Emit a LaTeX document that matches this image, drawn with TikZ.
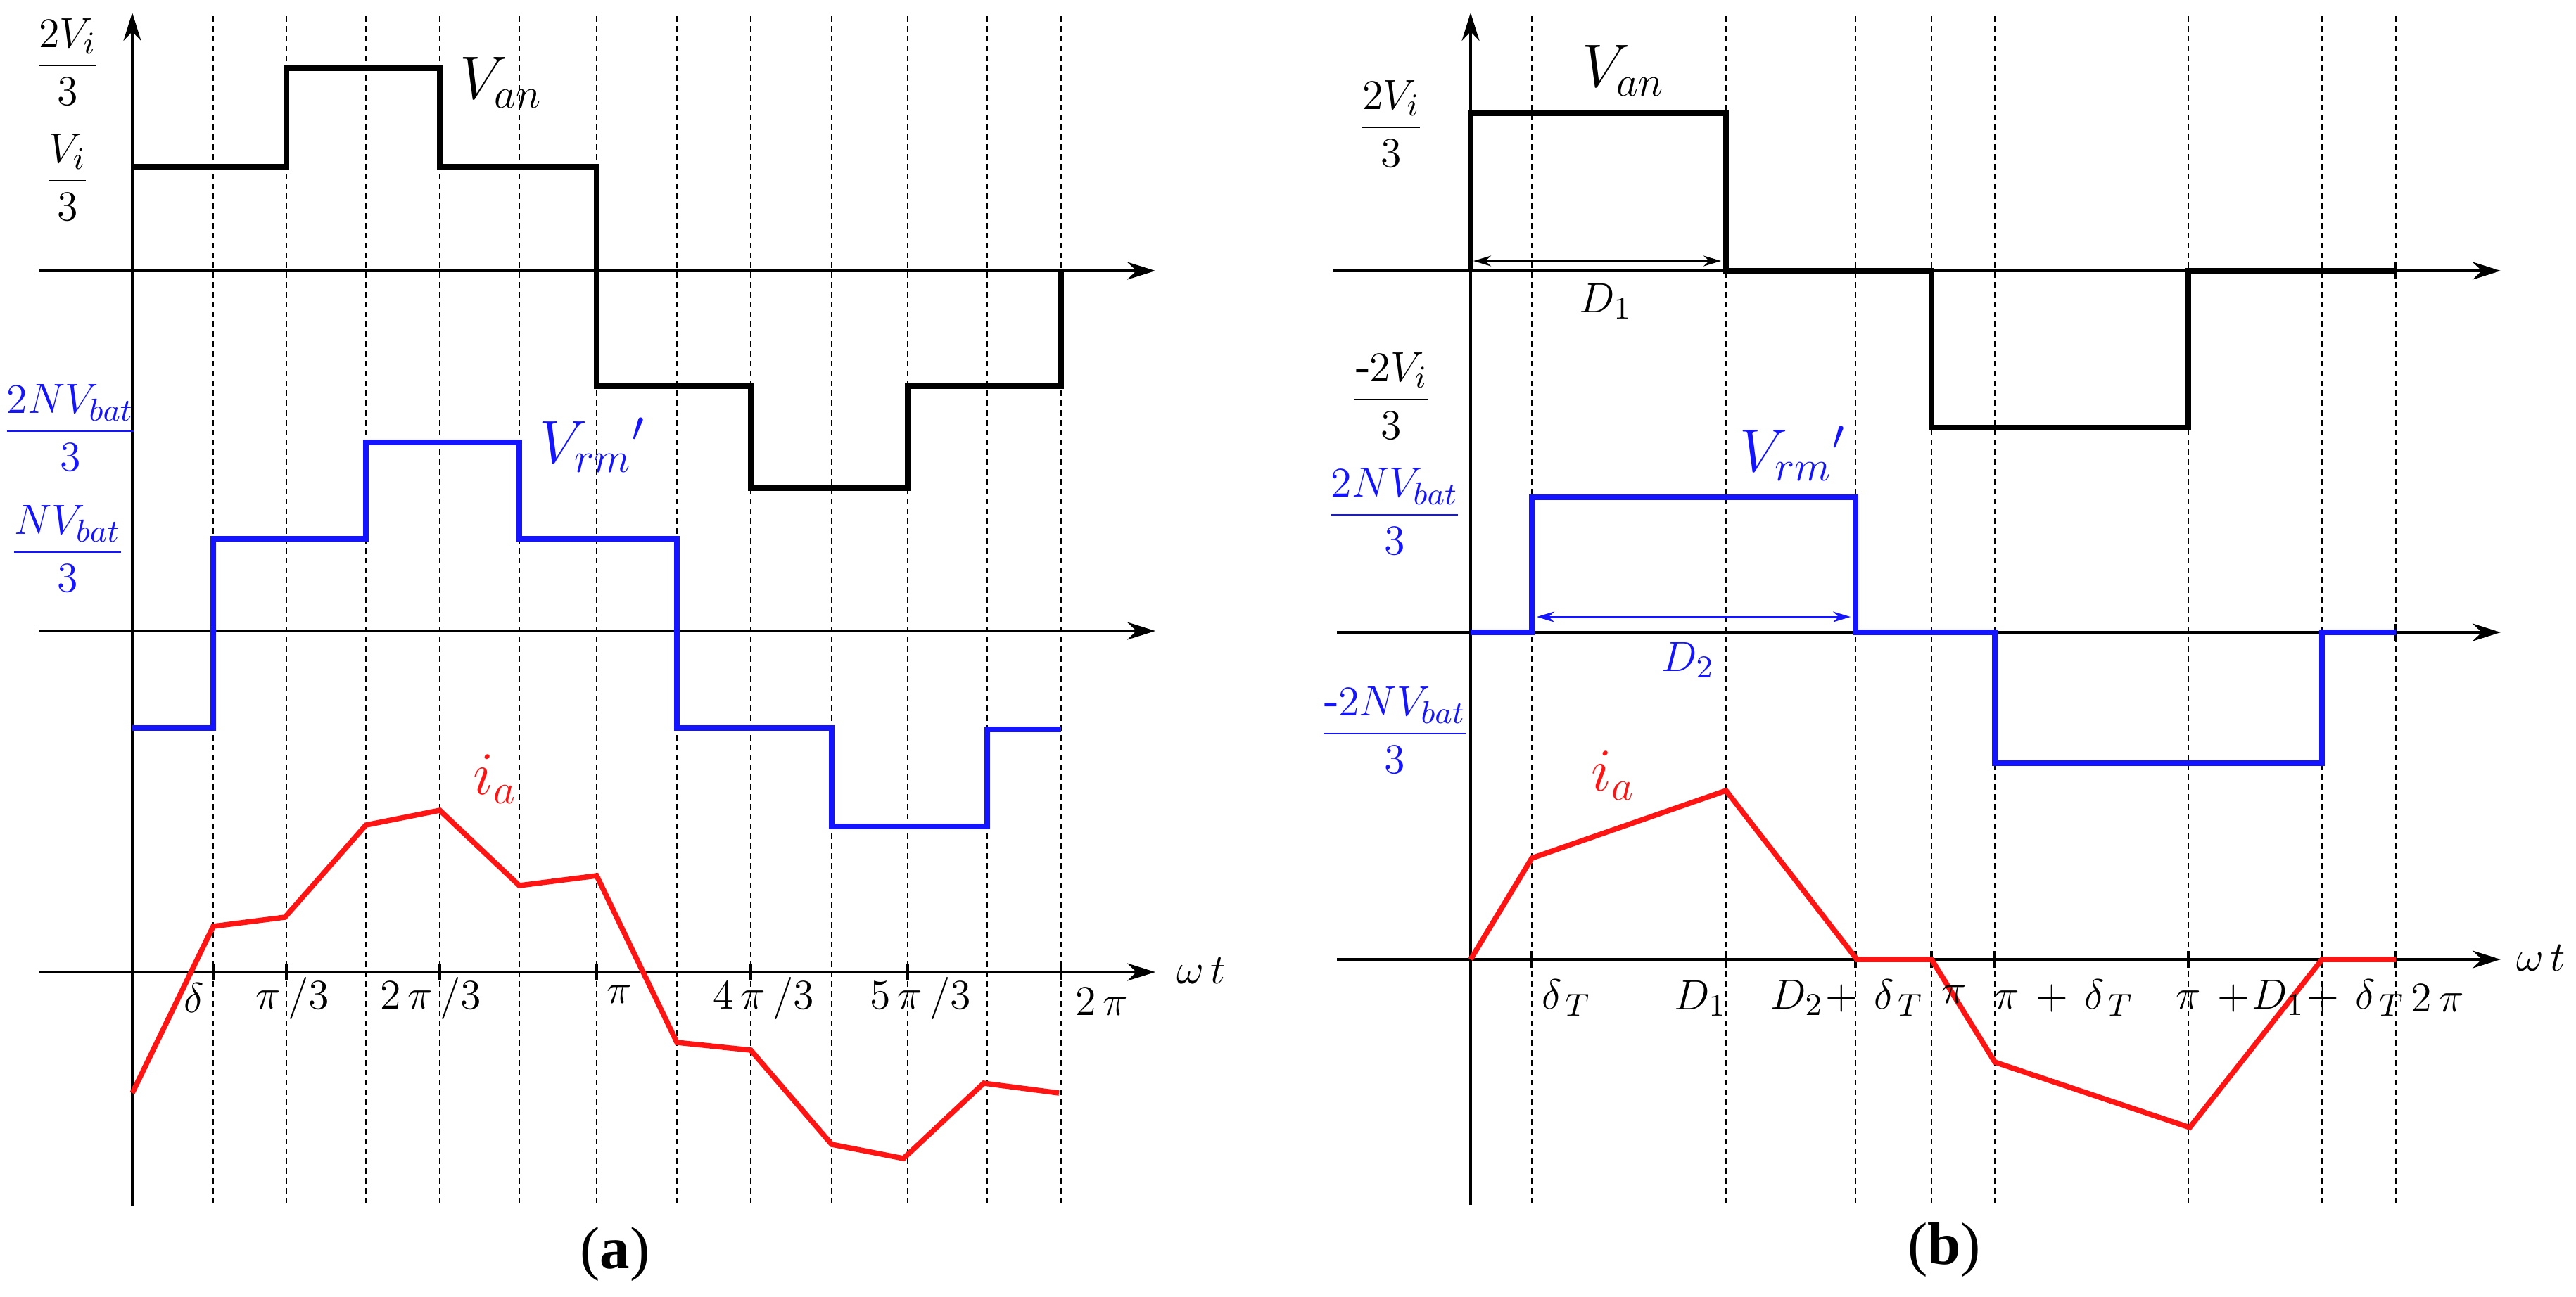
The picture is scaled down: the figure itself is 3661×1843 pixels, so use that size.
\documentclass[tikz,border=0pt]{standalone}
\usepackage{amsmath}
\usepackage{fontspec}
\setmainfont{Liberation Serif}
\usetikzlibrary{arrows.meta}
\definecolor{myblue}{RGB}{20,20,255}
\definecolor{myred}{RGB}{255,20,20}
\begin{document}
\begin{tikzpicture}[x=0.2pt,y=-0.2pt,
  ax/.style={line width=0.9pt,-{Stealth[length=8pt,width=5pt]}},
  grid/.style={line width=0.45pt,dash pattern=on 1.6pt off 1.2pt},
  blk/.style={line width=1.5pt,black},
  blu/.style={line width=1.5pt,myblue},
  rd/.style={line width=1.5pt,myred},
  lab/.style={font=\fontsize{13}{15}\selectfont},
  big/.style={font=\fontsize{18}{20}\selectfont},
  dim/.style={line width=0.6pt,{Stealth[length=5pt,width=3pt]}-{Stealth[length=5pt,width=3pt]}}]
\useasboundingbox (0,0) rectangle (3661,1843);
\fill[white] (0,0) rectangle (3661,1843);
% ===== panel (a)
\foreach \x in {303,407,520,625,738,848,962,1067,1182,1290,1403,1508}
  \draw[grid] (\x,23) -- (\x,1715);
\draw[ax] (188,1715) -- (188,18);
\foreach \y in {385,897,1382} \draw[ax] (55,\y) -- (1642,\y);
\foreach \x in {303,407,625,848,1067,1290,1508} \draw[line width=0.9pt] (\x,1370) -- (\x,1394);
\draw[blk] (188,237) -- (407,237) -- (407,97) -- (625,97) -- (625,237) -- (848,237) -- (848,549) -- (1067,549) -- (1067,694) -- (1290,694) -- (1290,549) -- (1508,549) -- (1508,385);
\draw[blu] (188,1035) -- (303,1035) -- (303,766) -- (520,766) -- (520,629) -- (738,629) -- (738,766) -- (962,766) -- (962,1035) -- (1182,1035) -- (1182,1175) -- (1403,1175) -- (1403,1037) -- (1508,1037);
\draw[rd] (188,1554) -- (303,1317) -- (405,1304) -- (520,1173) -- (625,1152) -- (738,1259) -- (848,1245) -- (962,1482) -- (1067,1493) -- (1182,1627) -- (1284,1647) -- (1398,1540) -- (1505,1554);
\node[lab] (a1) at (96,88) {$\dfrac{2V_i}{3}$};
\node[lab] (a2) at (96,252) {$\dfrac{V_i}{3}$};
\node[lab,text=myblue] (a3) at (100,608) {$\dfrac{2NV_{bat}}{3}$};
\node[lab,text=myblue] (a4) at (96,780) {$\dfrac{NV_{bat}}{3}$};
\node[big] (a5) at (712,117) {$V_{an}$};
\node[big,text=myblue] (a6) at (842,633) {$V_{rm}{}'$};
\node[big,text=myred] (a7) at (704,1108) {$i_a$};
\node[lab] (t1) at (276,1419) {$\delta$};
\node[lab] (t2) at (416,1419) {$\pi\,/3$};
\node[lab] (t3) at (612,1419) {$2\,\pi\,/3$};
\node[lab] (t4) at (880,1414) {$\pi$};
\node[lab] (t5) at (1085,1419) {$4\,\pi\,/3$};
\node[lab] (t6) at (1308,1419) {$5\,\pi\,/3$};
\node[lab] (t7) at (1566,1424) {$2\,\pi$};
\node[lab] (t8) at (1707,1380) {$\omega\,t$};
\node[font=\fontsize{17}{19}\selectfont] (ca) at (874,1783) {(\textbf{a})};
% ===== panel (b)
\foreach \x in {2177,2453,2637,2745,2835,3110,3300,3405}
  \draw[grid] (\x,23) -- (\x,1713);
\draw[ax] (2090,1713) -- (2090,18);
\draw[ax] (1894,385) -- (3554,385);
\draw[ax] (1900,899) -- (3554,899);
\draw[ax] (1900,1364) -- (3554,1364);
\foreach \x in {2177,2453,2637,2745,2835,3110,3300,3405} \draw[line width=0.9pt] (\x,1352) -- (\x,1376);
\draw[line width=0.9pt] (3405,373) -- (3405,397);
\draw[line width=0.9pt] (3405,887) -- (3405,911);
\draw[blk] (2090,385) -- (2090,161) -- (2453,161) -- (2453,385) -- (2745,385) -- (2745,608) -- (3110,608) -- (3110,385) -- (3405,385);
\draw[blu] (2090,899) -- (2177,899) -- (2177,707) -- (2637,707) -- (2637,899) -- (2835,899) -- (2835,1085) -- (3300,1085) -- (3300,899) -- (3405,899);
\draw[rd] (2090,1364) -- (2177,1220) -- (2453,1124) -- (2639,1364) -- (2745,1364) -- (2835,1510) -- (3112,1603) -- (3300,1364) -- (3405,1364);
\draw[dim,black] (2094,371) -- (2446,371);
\draw[dim,myblue] (2184,877) -- (2630,877);
\node[lab] (b1) at (1977,176) {$\dfrac{2V_i}{3}$};
\node[lab] (b2) at (1977,563) {$\dfrac{\text{-}2V_i}{3}$};
\node[lab,text=myblue] (b3) at (1982,727) {$\dfrac{2NV_{bat}}{3}$};
\node[lab,text=myblue] (b4) at (1982,1038) {$\dfrac{\text{-}2NV_{bat}}{3}$};
\node[big] (b5) at (2307,100) {$V_{an}$};
\node[big,text=myblue] (b6) at (2548,645) {$V_{rm}{}'$};
\node[big,text=myred] (b7) at (2293,1103) {$i_a$};
\node[lab] (d1) at (2282,428) {$D_1$};
\node[lab,text=myblue] (d2) at (2399,938) {$D_2$};
\node[lab] (u1) at (2226,1419) {$\delta_{\,T}$};
\node[lab] (u2) at (2417,1419) {$D_1$};
\node[lab] (u3) at (2625,1419) {$D_2\!+\,\delta_{\,T}$};
\node[lab] (u4) at (2777,1414) {$\pi$};
\node[lab] (u5) at (2933,1419) {$\pi\,+\,\delta_{\,T}$};
\node[lab] (u6) at (3255,1419) {$\pi\,+\!D_1\!+\,\delta_{\,T}$};
\node[lab] (u7) at (3464,1419) {$2\,\pi$};
\node[lab] (u8) at (3611,1362) {$\omega\,t$};
\node[font=\fontsize{17}{19}\selectfont] (cb) at (2763,1777) {(\textbf{b})};
\end{tikzpicture}
\end{document}
